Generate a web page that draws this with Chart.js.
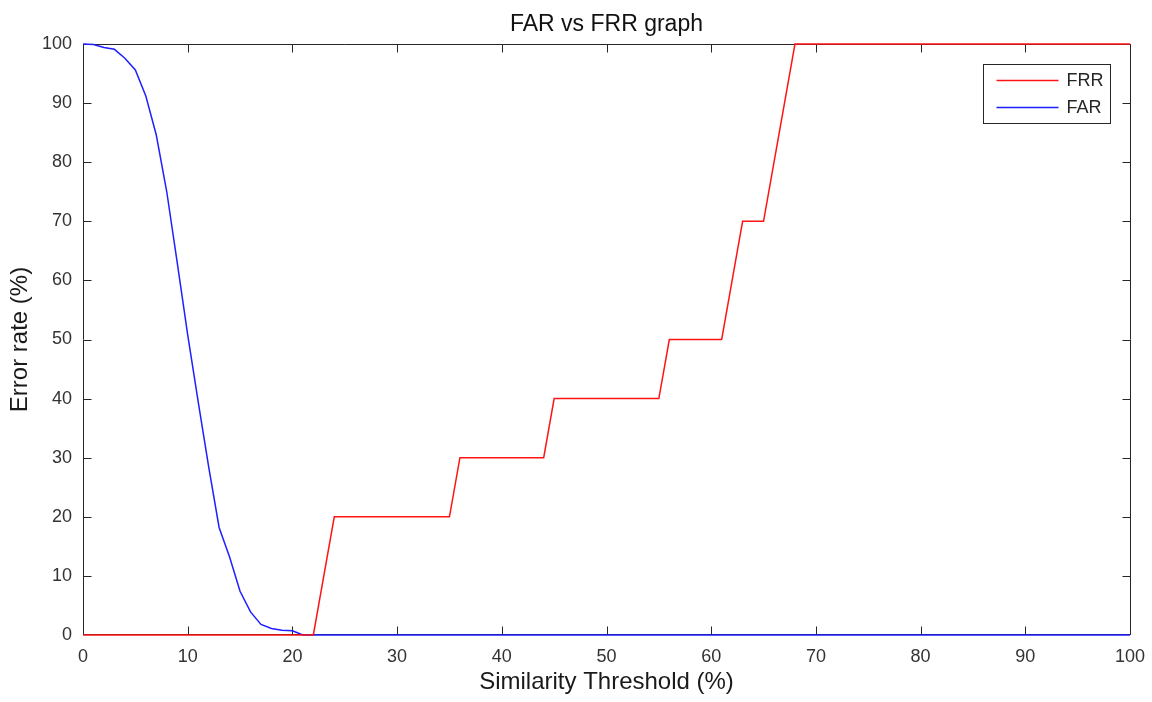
<!DOCTYPE html>
<html>
<head>
<meta charset="utf-8">
<title>FAR vs FRR graph</title>
<script src="https://cdn.jsdelivr.net/npm/chart.js@4/dist/chart.umd.min.js"></script>
<style>
  html, body { margin: 0; padding: 0; background: #ffffff; }
  #wrap { width: 1152px; height: 702px; position: relative; }
</style>
</head>
<body>
<div id="wrap"><canvas id="rateChart"></canvas></div>
<script>
// similarity threshold (%) sampled at every integer step
const thresholds = [
  0, 1, 2, 3, 4, 5, 6, 7, 8, 9,
  10, 11, 12, 13, 14, 15, 16, 17, 18, 19,
  20, 21, 22, 23, 24, 25, 26, 27, 28, 29,
  30, 31, 32, 33, 34, 35, 36, 37, 38, 39,
  40, 41, 42, 43, 44, 45, 46, 47, 48, 49,
  50, 51, 52, 53, 54, 55, 56, 57, 58, 59,
  60, 61, 62, 63, 64, 65, 66, 67, 68, 69,
  70, 71, 72, 73, 74, 75, 76, 77, 78, 79,
  80, 81, 82, 83, 84, 85, 86, 87, 88, 89,
  90, 91, 92, 93, 94, 95, 96, 97, 98, 99,
  100
];

// false rejection rate (%)
const frrValues = [
  0, 0, 0, 0, 0, 0, 0, 0, 0, 0,
  0, 0, 0, 0, 0, 0, 0, 0, 0, 0,
  0, 0, 0, 10, 20, 20, 20, 20, 20, 20,
  20, 20, 20, 20, 20, 20, 30, 30, 30, 30,
  30, 30, 30, 30, 30, 40, 40, 40, 40, 40,
  40, 40, 40, 40, 40, 40, 50, 50, 50, 50,
  50, 50, 60, 70, 70, 70, 80, 90, 100, 100,
  100, 100, 100, 100, 100, 100, 100, 100, 100, 100,
  100, 100, 100, 100, 100, 100, 100, 100, 100, 100,
  100, 100, 100, 100, 100, 100, 100, 100, 100, 100,
  100
];

// false acceptance rate (%)
const farValues = [
  100, 99.9, 99.4, 99.1, 97.6, 95.6, 91.2, 84.6, 75, 63,
  50.8, 39.5, 28.5, 18.2, 13.2, 7.4, 3.9, 1.8, 1.1, 0.8,
  0.7, 0, 0, 0, 0, 0, 0, 0, 0, 0,
  0, 0, 0, 0, 0, 0, 0, 0, 0, 0,
  0, 0, 0, 0, 0, 0, 0, 0, 0, 0,
  0, 0, 0, 0, 0, 0, 0, 0, 0, 0,
  0, 0, 0, 0, 0, 0, 0, 0, 0, 0,
  0, 0, 0, 0, 0, 0, 0, 0, 0, 0,
  0, 0, 0, 0, 0, 0, 0, 0, 0, 0,
  0, 0, 0, 0, 0, 0, 0, 0, 0, 0,
  0
];

// tick positions shared by both axes
const axisTicks = [0, 10, 20, 30, 40, 50, 60, 70, 80, 90, 100];

const FONT = "'Liberation Sans', Arial, Helvetica, sans-serif";
const AXIS_COLOR = "#262626";

function toPoints(values) {
  return thresholds.map(function (t, i) {
    return { x: t, y: values[i] };
  });
}

// box around the plot area with inward tick marks on all four sides;
// the bottom edge sits one pixel above the zero line so the curves show under it
const axesBox = {
  id: "axesBox",
  beforeDatasetsDraw(chart) {
    const ctx = chart.ctx;
    const a = chart.chartArea;
    const xs = chart.scales.x;
    const ys = chart.scales.y;
    const len = 8;
    const top = Math.round(a.top) + 0.5;
    const bottom = Math.round(a.bottom) - 0.5;
    const left = Math.round(a.left) + 0.5;
    const right = Math.round(a.right) + 0.5;
    ctx.save();
    ctx.strokeStyle = AXIS_COLOR;
    ctx.lineWidth = 1;
    ctx.beginPath();
    ctx.rect(left, top, right - left, bottom - top);
    axisTicks.forEach(function (v) {
      const px = Math.round(xs.getPixelForValue(v)) + 0.5;
      ctx.moveTo(px, bottom);
      ctx.lineTo(px, bottom - len);
      ctx.moveTo(px, top);
      ctx.lineTo(px, top + len);
      const py = Math.min(Math.round(ys.getPixelForValue(v)) + 0.5, bottom);
      ctx.moveTo(left, py);
      ctx.lineTo(left + len, py);
      ctx.moveTo(right, py);
      ctx.lineTo(right - len, py);
    });
    ctx.stroke();
    ctx.restore();
  }
};

// title centred over the plot area
const plotTitle = {
  id: "plotTitle",
  afterDraw(chart) {
    const ctx = chart.ctx;
    const a = chart.chartArea;
    ctx.save();
    ctx.fillStyle = "#111111";
    ctx.font = "23px " + FONT;
    ctx.textAlign = "center";
    ctx.textBaseline = "alphabetic";
    ctx.fillText("FAR vs FRR graph", (a.left + a.right) / 2, 31);
    ctx.restore();
  }
};

// boxed legend in the upper right corner of the plot
const boxLegend = {
  id: "boxLegend",
  afterDraw(chart) {
    const ctx = chart.ctx;
    const a = chart.chartArea;
    const boxW = 127;
    const boxH = 59;
    const left = Math.round(a.right - 20 - boxW) + 0.5;
    const top = Math.round(a.top + 20) + 0.5;
    ctx.save();
    ctx.fillStyle = "#ffffff";
    ctx.fillRect(left, top, boxW, boxH);
    ctx.strokeStyle = AXIS_COLOR;
    ctx.lineWidth = 1;
    ctx.strokeRect(left, top, boxW, boxH);
    ctx.font = "18px " + FONT;
    ctx.textAlign = "left";
    ctx.textBaseline = "middle";
    chart.data.datasets.forEach(function (ds, i) {
      const y = top + 16 + i * 27;
      ctx.strokeStyle = ds.borderColor;
      ctx.lineWidth = ds.borderWidth;
      ctx.beginPath();
      ctx.moveTo(left + 13, y);
      ctx.lineTo(left + 75, y);
      ctx.stroke();
      ctx.fillStyle = AXIS_COLOR;
      ctx.fillText(ds.label, left + 83, y + 1);
    });
    ctx.restore();
  }
};

new Chart(document.getElementById("rateChart"), {
  type: "line",
  data: {
    datasets: [
      {
        label: "FRR",
        data: toPoints(frrValues),
        borderColor: "#ff1414",
        borderWidth: 1.5,
        pointRadius: 0,
        tension: 0,
        clip: 3
      },
      {
        label: "FAR",
        data: toPoints(farValues),
        borderColor: "#1f1fff",
        borderWidth: 1.5,
        pointRadius: 0,
        tension: 0,
        clip: 3
      }
    ]
  },
  options: {
    responsive: true,
    maintainAspectRatio: false,
    animation: false,
    layout: { padding: { top: 44, right: 22, left: 0, bottom: 0 } },
    plugins: {
      legend: { display: false },
      tooltip: { enabled: false }
    },
    scales: {
      x: {
        type: "linear",
        min: 0,
        max: 100,
        afterBuildTicks(scale) {
          scale.ticks = axisTicks.map(function (v) { return { value: v }; });
        },
        afterFit(scale) {
          scale.height = 67;
          scale.paddingLeft = 0;
          scale.paddingRight = 0;
        },
        grid: { display: false, drawTicks: false },
        border: { display: false },
        ticks: {
          color: "#333333",
          font: { family: FONT, size: 18 },
          padding: 11,
          maxRotation: 0
        },
        title: {
          display: true,
          text: "Similarity Threshold (%)",
          color: "#1a1a1a",
          font: { family: FONT, size: 24 },
          padding: { top: 0, bottom: 5 }
        }
      },
      y: {
        min: 0,
        max: 100,
        afterBuildTicks(scale) {
          scale.ticks = axisTicks.map(function (v) { return { value: v }; });
        },
        afterFit(scale) {
          scale.width = 83;
          scale.paddingTop = 0;
          scale.paddingBottom = 0;
        },
        grid: { display: false, drawTicks: false },
        border: { display: false },
        ticks: {
          color: "#333333",
          font: { family: FONT, size: 18 },
          padding: 11
        },
        title: {
          display: true,
          text: "Error rate (%)",
          color: "#1a1a1a",
          font: { family: FONT, size: 24 },
          padding: { top: 6, bottom: 0 }
        }
      }
    }
  },
  plugins: [axesBox, plotTitle, boxLegend]
});
</script>
</body>
</html>
